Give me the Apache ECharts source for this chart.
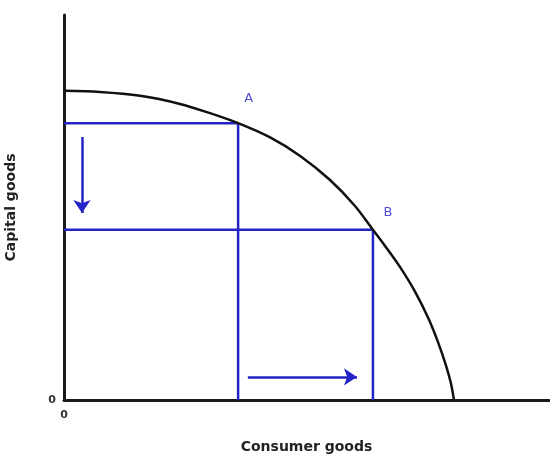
<!DOCTYPE html>
<html>
<head>
<meta charset="utf-8">
<script src="https://cdn.jsdelivr.net/npm/echarts@6/dist/echarts.min.js"></script>
<style>html,body{margin:0;padding:0;background:#fff}#c{width:550px;height:458px}</style>
</head>
<body>
<div id="c"></div>
<script>
// Production possibility frontier
var curveX = [0, 0.74, 1.57, 2.39, 3.01, 3.59, 4.25, 4.87, 5.48, 6.00, 6.37, 6.62, 6.93, 7.24, 7.51, 7.71, 7.88, 7.98, 8.04];
var curveY = [8.03, 8.00, 7.90, 7.69, 7.45, 7.19, 6.82, 6.34, 5.72, 5.04, 4.42, 4.00, 3.45, 2.81, 2.13, 1.51, 0.88, 0.42, 0];
var pointA = [3.59, 7.19];
var pointB = [6.37, 4.42];
var labelNames = ['A', 'B'];
var labelPos = [[3.81, 7.84], [6.68, 4.86]];
var arrowDown = [[0.37, 6.83], [0.37, 4.86]];
var arrowRight = [[3.79, 0.6], [6.04, 0.6]];
var xName = 'Consumer goods';
var yName = 'Capital goods';
var tickLabels = ['0'];

var blue = '#2424c8';
var curve = curveX.map(function (x, i) { return [x, curveY[i]]; });
function rect(p) { return [[0, p[1]], [p[0], p[1]], [p[0], 0]]; }

var chart = echarts.init(document.getElementById('c'));
chart.setOption({
  animation: false,
  backgroundColor: '#fff',
  grid: { left: 64, right: 1, top: 15, bottom: 58, containLabel: false, outerBoundsMode: 'none' },
  xAxis: {
    type: 'value', min: 0, max: 10, interval: 10,
    name: xName, nameLocation: 'middle', nameGap: 40,
    nameTextStyle: { fontFamily: 'DejaVu Sans', fontSize: 14, color: '#222', fontWeight: 'bold' },
    axisLine: { lineStyle: { color: '#1a1a1a', width: 3 } },
    axisTick: { show: false }, splitLine: { show: false },
    axisLabel: { margin: 10, fontFamily: 'DejaVu Sans', fontSize: 11, fontWeight: 'bold', color: '#333',
      formatter: function (v) { return v === 0 ? tickLabels[0] : ''; } }
  },
  yAxis: {
    type: 'value', min: 0, max: 10, interval: 10,
    name: yName, nameLocation: 'middle', nameGap: 46, nameRotate: 90,
    nameTextStyle: { fontFamily: 'DejaVu Sans', fontSize: 14, color: '#222', fontWeight: 'bold' },
    axisLine: { lineStyle: { color: '#1a1a1a', width: 3 } },
    axisTick: { show: false }, splitLine: { show: false },
    axisLabel: { margin: 8, fontFamily: 'DejaVu Sans', fontSize: 11, fontWeight: 'bold', color: '#333',
      formatter: function (v) { return v === 0 ? tickLabels[0] : ''; } }
  },
  series: [
    { type: 'line', data: rect(pointA), symbol: 'none', lineStyle: { color: blue, width: 2.5 }, z: 3 },
    { type: 'line', data: rect(pointB), symbol: 'none', lineStyle: { color: blue, width: 2.5 }, z: 3 },
    { type: 'line', data: curve, smooth: 0.3, symbol: 'none', lineStyle: { color: '#111', width: 2.5 }, z: 4 },
    { type: 'lines', coordinateSystem: 'cartesian2d', z: 3,
      symbol: ['none', 'arrow'], symbolSize: [9, 13],
      lineStyle: { color: blue, width: 2.5, opacity: 1 },
      data: [{ coords: arrowDown }, { coords: arrowRight }] },
    { type: 'scatter', symbolSize: 0, z: 5,
      data: labelPos.map(function (p, i) { return { value: p, name: labelNames[i] }; }),
      label: { show: true, position: 'inside', formatter: '{b}', color: blue, fontFamily: 'DejaVu Sans', fontSize: 13 } }
  ]
});
</script>
</body>
</html>
